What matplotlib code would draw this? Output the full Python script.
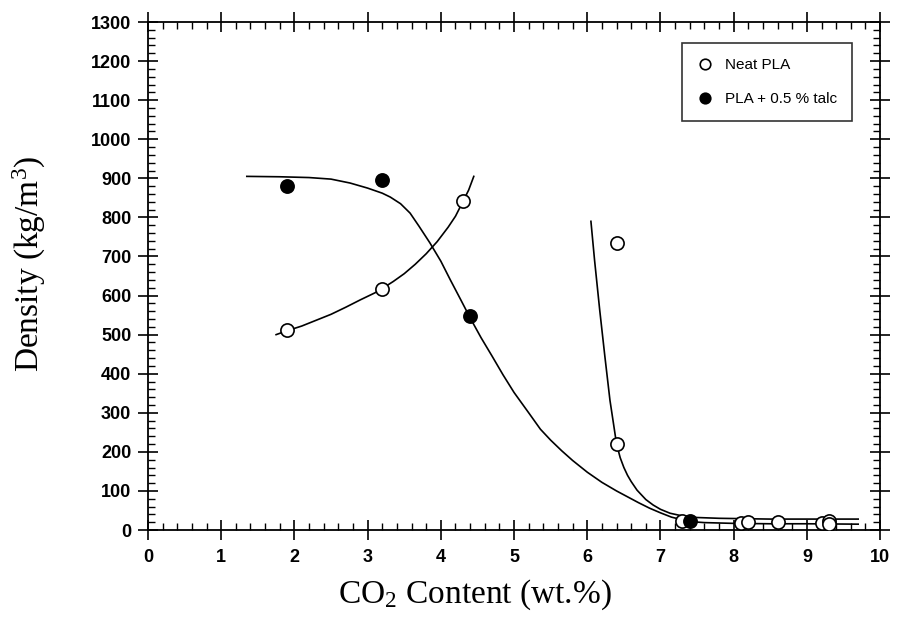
import matplotlib
matplotlib.use("Agg")
import matplotlib.pyplot as plt
from matplotlib.ticker import MultipleLocator

plt.rcParams["mathtext.fontset"] = "custom"
plt.rcParams["mathtext.rm"] = "Liberation Serif"
plt.rcParams["mathtext.it"] = "Liberation Serif:italic"
plt.rcParams["mathtext.bf"] = "Liberation Serif:bold"

# Data points
neat_x = [1.9, 3.2, 4.3, 6.4, 6.4, 7.3, 8.1, 8.2, 8.6, 9.2, 9.3, 9.3]
neat_y = [512, 618, 843, 735, 220, 22, 18, 20, 20, 18, 22, 16]
talc_x = [1.9, 3.2, 4.4, 7.4]
talc_y = [880, 895, 548, 24]

# Fitted curves
neat_fit1_x = [1.75, 1.9, 2.1, 2.3, 2.5, 2.7, 2.9, 3.1, 3.2, 3.35, 3.5, 3.65,
               3.8, 3.95, 4.1, 4.2, 4.3, 4.38, 4.45]
neat_fit1_y = [500, 510, 522, 537, 552, 570, 589, 607, 618, 636, 656, 680,
               707, 738, 775, 803, 840, 870, 905]
neat_fit2_x = [6.05, 6.1, 6.17, 6.24, 6.31, 6.36, 6.4, 6.45, 6.5, 6.55, 6.6,
               6.68, 6.8, 6.9, 7.0, 7.13, 7.3, 7.5, 7.8, 8.5, 9.7]
neat_fit2_y = [790, 690, 563, 445, 332, 270, 220, 185, 160, 140, 124,
               102, 78, 64, 53, 43, 36, 32, 30, 28, 28]
talc_fit_x = [1.35, 1.8, 2.2, 2.5, 2.76, 3.0, 3.2, 3.31, 3.45, 3.58, 3.7,
              3.85, 4.0, 4.13, 4.27, 4.4, 4.55, 4.7, 4.85, 5.0, 5.2, 5.36,
              5.5, 5.65, 5.8, 6.0, 6.2, 6.4, 6.55, 6.7, 6.85, 7.0, 7.15,
              7.3, 7.45, 7.6, 8.0, 8.5, 9.0, 9.7]
talc_fit_y = [905, 904, 902, 898, 888, 875, 862, 852, 835, 811, 778,
              735, 688, 640, 590, 543, 492, 445, 397, 352, 300, 258,
              230, 203, 178, 148, 122, 100, 85, 70, 56, 44, 33,
              26, 21, 19, 17, 16, 16, 15]

x_ticks = [0, 1, 2, 3, 4, 5, 6, 7, 8, 9, 10]
y_ticks = list(range(0, 1301, 100))

fig = plt.figure(figsize=(8.99, 6.24), dpi=100)
ax = fig.add_axes([0.1646, 0.1506, 0.8144, 0.8141])

lw = 1.2
ax.plot(neat_fit1_x, neat_fit1_y, color="black", lw=lw, zorder=2)
ax.plot(neat_fit2_x, neat_fit2_y, color="black", lw=lw, zorder=2)
ax.plot(talc_fit_x, talc_fit_y, color="black", lw=lw, zorder=2)

ax.plot(neat_x, neat_y, linestyle="none", marker="o", ms=9.5, mfc="white",
        mec="black", mew=1.2, label="Neat PLA", zorder=3)
ax.plot(talc_x, talc_y, linestyle="none", marker="o", ms=9.5, mfc="black",
        mec="black", mew=1.2, label="PLA + 0.5 % talc", zorder=3)

ax.set_xlim(0, 10)
ax.set_ylim(0, 1300)
ax.set_xticks(x_ticks)
ax.set_yticks(y_ticks)
ax.xaxis.set_minor_locator(MultipleLocator(0.2))
ax.yaxis.set_minor_locator(MultipleLocator(20))

ax.tick_params(which="major", direction="inout", length=14, width=1.2,
               top=True, right=True, labelsize=13)
ax.tick_params(which="minor", direction="in", length=5, width=1.0,
               top=True, right=True)
for lab in ax.get_xticklabels() + ax.get_yticklabels():
    lab.set_fontfamily("Liberation Sans")
    lab.set_fontweight("bold")
ax.tick_params(axis="x", pad=7)
ax.tick_params(axis="y", pad=5)

for sp in ax.spines.values():
    sp.set_linewidth(1.3)

ax.set_xlabel(r"CO$_2$ Content (wt.%)", fontfamily="Liberation Serif",
              fontsize=24)
ax.set_ylabel(r"Density (kg/m$^3$)", fontfamily="Liberation Serif",
              fontsize=24)
ax.xaxis.set_label_coords(0.447, -0.094)
ax.yaxis.set_label_coords(-0.137, 0.524)

leg = ax.legend(loc="upper right", bbox_to_anchor=(0.962, 0.959),
                borderaxespad=0.0,
                prop={"family": "Liberation Sans", "size": 11},
                frameon=True, fancybox=False, edgecolor="black",
                handlelength=1.0, handletextpad=0.8, borderpad=1.0,
                labelspacing=1.3, markerscale=0.8)
leg.get_frame().set_linewidth(1.2)

fig.savefig("out.png", dpi=100)
